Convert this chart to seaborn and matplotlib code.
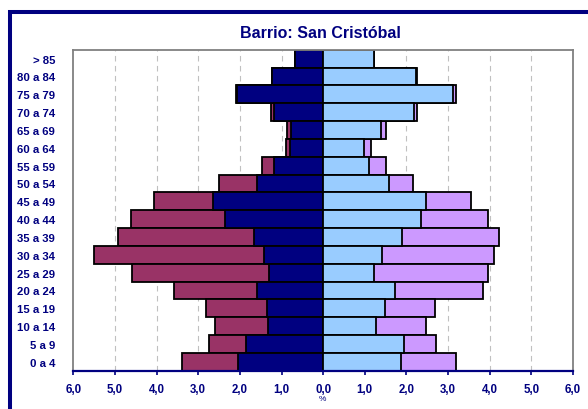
import matplotlib
matplotlib.use("Agg")
import matplotlib.pyplot as plt
import matplotlib.ticker as mtick
from matplotlib.patches import Rectangle
import numpy as np
import seaborn as sns

NAVY = "#000080"
MAROON = "#993366"
LIGHT_BLUE = "#99CCFF"
LAVENDER = "#CC99FF"

# age groups, top row first
ages = ["> 85", "80 a 84", "75 a 79", "70 a 74", "65 a 69", "60 a 64",
        "55 a 59", "50 a 54", "45 a 49", "40 a 44", "35 a 39", "30 a 34",
        "25 a 29", "20 a 24", "15 a 19", "10 a 14", "5 a 9", "0 a 4"]

# left side (%), inner segment and outer segment
left_inner = [0.67, 1.24, 2.07, 1.18, 0.77, 0.80, 1.18, 1.59, 2.64, 2.35,
              1.67, 1.43, 1.31, 1.58, 1.35, 1.32, 1.86, 2.05]
left_outer = [0.00, 0.00, 0.03, 0.07, 0.09, 0.10, 0.30, 0.91, 1.43, 2.27,
              3.26, 4.07, 3.27, 1.99, 1.46, 1.27, 0.88, 1.35]

# right side (%), inner segment and outer segment
right_inner = [1.23, 2.23, 3.11, 2.19, 1.38, 0.97, 1.09, 1.58, 2.47, 2.35,
               1.89, 1.41, 1.21, 1.72, 1.49, 1.26, 1.95, 1.87]
right_outer = [0.00, 0.02, 0.07, 0.07, 0.12, 0.19, 0.43, 0.58, 1.09, 1.62,
               2.34, 2.69, 2.76, 2.13, 1.19, 1.20, 0.76, 1.32]

x_ticks = [-6, -5, -4, -3, -2, -1, 0, 1, 2, 3, 4, 5, 6]

sns.set_theme(style="white")
plt.rcParams["font.family"] = ["Liberation Sans", "DejaVu Sans"]

fig = plt.figure(figsize=(5.88, 4.10), dpi=100)
ax = fig.add_axes([73.3 / 588, 1 - 371.7 / 410, (573 - 73.3) / 588, 321 / 410])

bar_kw = dict(orient="h", width=1.0, saturation=1, edgecolor="black",
              linewidth=1.3, errorbar=None, ax=ax)

left_total = np.array(left_inner) + np.array(left_outer)
right_total = np.array(right_inner) + np.array(right_outer)

# outer segments first, inner segments drawn on top
sns.barplot(x=-left_total, y=ages, color=MAROON, **bar_kw)
sns.barplot(x=-np.array(left_inner), y=ages, color=NAVY, **bar_kw)
sns.barplot(x=right_total, y=ages, color=LAVENDER, **bar_kw)
sns.barplot(x=np.array(right_inner), y=ages, color=LIGHT_BLUE, **bar_kw)

ax.set_xlim(-6, 6)
ax.set_xticks(x_ticks)
ax.xaxis.set_major_formatter(
    mtick.FuncFormatter(lambda v, p: f"{abs(v):.1f}".replace(".", ",")))
ax.set_xlabel("")
ax.set_ylabel("")

for v in x_ticks[1:-1]:
    ax.axvline(v, color="#c0c0c0", lw=0.8, ls=(0, (5, 4)), zorder=0)

for side in ["left", "top", "right"]:
    ax.spines[side].set_color("#808080")
    ax.spines[side].set_linewidth(1.3)
ax.spines["bottom"].set_color(NAVY)
ax.spines["bottom"].set_linewidth(1.6)

ax.tick_params(axis="x", bottom=True, length=3, width=1.2, color=NAVY,
               pad=6, labelsize=8.3, labelcolor=NAVY)
ax.tick_params(axis="y", left=False, pad=7, labelsize=8.2, labelcolor=NAVY)
for lab in ax.get_xticklabels() + ax.get_yticklabels():
    lab.set_fontweight("bold")

fig.text(320 / 588, 1 - 33.5 / 410, "Barrio: San Cristóbal", ha="center",
         va="center", fontsize=11.5, fontweight="bold", color=NAVY)
fig.text(322 / 588, 1 - 400 / 410, "%", ha="center", va="center",
         fontsize=6, color=NAVY)

fig.add_artist(Rectangle((10.3 / 588, -0.1), 1.2, 1.1 - 13.3 / 410,
                         transform=fig.transFigure, fill=False,
                         edgecolor=NAVY, lw=2.9))

fig.savefig("out.png", dpi=100)
